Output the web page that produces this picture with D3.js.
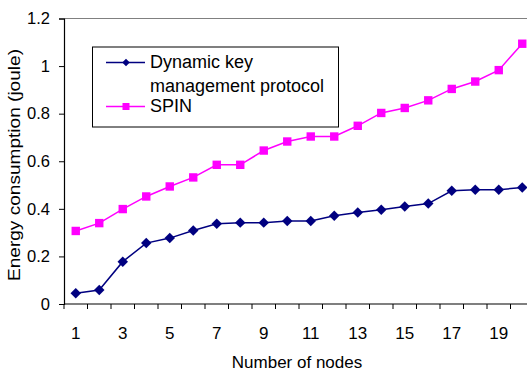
<!DOCTYPE html>
<html>
<head>
<meta charset="utf-8">
<script src="https://cdn.jsdelivr.net/npm/d3@7"></script>
<style>
  body { margin: 0; background: #fff; }
  svg { display: block; font-family: "Liberation Sans", Arial, sans-serif; }
</style>
</head>
<body>
<svg id="chart" width="527" height="372"></svg>
<script>
// values
let nodes = d3.range(1, 21);
let dynamicKey = [0.045, 0.059, 0.178, 0.256, 0.277, 0.309, 0.337, 0.342, 0.342, 0.349,
                  0.349, 0.371, 0.385, 0.396, 0.41, 0.422, 0.476, 0.48, 0.48, 0.49];
let spin = [0.307, 0.34, 0.399, 0.452, 0.494, 0.532, 0.585, 0.585, 0.645, 0.683,
            0.704, 0.704, 0.749, 0.803, 0.824, 0.856, 0.904, 0.935, 0.983, 1.094];
let yTicks = [0, 0.2, 0.4, 0.6, 0.8, 1, 1.2];
let xLabels = [1, 3, 5, 7, 9, 11, 13, 15, 17, 19];

let svg = d3.select("#chart");
let pLeft = 64, pRight = 534, pTop = 18.5, pBottom = 304;

let x = d3.scaleBand().domain(nodes).range([pLeft, pRight]);
let y = d3.scaleLinear().domain([0, 1.2]).range([pBottom, pTop]);

// top border line
svg.append("line")
    .attr("x1", pLeft).attr("x2", 527)
    .attr("y1", y(1.2)).attr("y2", y(1.2))
    .attr("stroke", "#808080").attr("stroke-width", 1.2);

// y axis
let yAxis = svg.append("g")
    .attr("transform", "translate(" + pLeft + ",0)")
    .call(d3.axisLeft(y).tickValues(yTicks).tickSize(5).tickPadding(9)
        .tickFormat(function(d) { return d; }));
yAxis.select(".domain").attr("stroke", "#000").attr("stroke-width", 1.2);
yAxis.selectAll(".tick line").attr("stroke", "#000");
yAxis.selectAll("text").attr("font-size", "16.5px").attr("font-family", "Liberation Sans, Arial").attr("fill", "#000");

// x axis, ticks at band edges
let xAxis = svg.append("g")
    .attr("transform", "translate(0," + pBottom + ")");
xAxis.append("line")
    .attr("x1", pLeft).attr("x2", pRight)
    .attr("stroke", "#000").attr("stroke-width", 1.2);
xAxis.selectAll(".edge")
    .data(nodes)
    .enter().append("line")
    .attr("class", "edge")
    .attr("x1", function(d) { return x(d); })
    .attr("x2", function(d) { return x(d); })
    .attr("y1", 0).attr("y2", 5)
    .attr("stroke", "#000");
xAxis.selectAll(".lab")
    .data(xLabels)
    .enter().append("text")
    .attr("class", "lab")
    .attr("x", function(d) { return x(d) + x.bandwidth() / 2; })
    .attr("y", 35)
    .attr("text-anchor", "middle")
    .attr("font-size", "17px")
    .text(function(d) { return d; });

// axis titles
svg.append("text")
    .attr("x", 297).attr("y", 368)
    .attr("text-anchor", "middle")
    .attr("font-size", "17px")
    .text("Number of nodes");

svg.append("text")
    .attr("transform", "translate(20,165) rotate(-90)")
    .attr("text-anchor", "middle")
    .attr("font-size", "16.5px")
    .attr("textLength", 232)
    .attr("lengthAdjust", "spacingAndGlyphs")
    .text("Energy consumption (joule)");

// series
let cx = function(d, i) { return x(nodes[i]) + x.bandwidth() / 2; };
let line = d3.line().x(cx).y(function(d) { return y(d); });

svg.append("path").datum(spin)
    .attr("d", line).attr("fill", "none")
    .attr("stroke", "#ff00ff").attr("stroke-width", 1.5);
svg.append("path").datum(dynamicKey)
    .attr("d", line).attr("fill", "none")
    .attr("stroke", "#000080").attr("stroke-width", 1.5);

svg.selectAll(".sq")
    .data(spin)
    .enter().append("rect")
    .attr("class", "sq")
    .attr("x", function(d, i) { return cx(d, i) - 4.2; })
    .attr("y", function(d) { return y(d) - 4.2; })
    .attr("width", 8.4).attr("height", 8.4)
    .attr("fill", "#ff00ff");

let diamond = d3.symbol().type(d3.symbolDiamond2).size(70);
svg.selectAll(".dm")
    .data(dynamicKey)
    .enter().append("path")
    .attr("class", "dm")
    .attr("d", diamond)
    .attr("transform", function(d, i) { return "translate(" + cx(d, i) + "," + y(d) + ")"; })
    .attr("fill", "#000080");

// legend
let legend = svg.append("g");
legend.append("rect")
    .attr("x", 92.5).attr("y", 47)
    .attr("width", 246).attr("height", 80)
    .attr("fill", "#fff").attr("stroke", "#000").attr("stroke-width", 1);

legend.append("line")
    .attr("x1", 106).attr("x2", 145).attr("y1", 62.5).attr("y2", 62.5)
    .attr("stroke", "#000080").attr("stroke-width", 1.5);
legend.append("path")
    .attr("d", d3.symbol().type(d3.symbolDiamond2).size(36))
    .attr("transform", "translate(126,62.5)")
    .attr("fill", "#000080");
legend.append("line")
    .attr("x1", 106).attr("x2", 145).attr("y1", 106.5).attr("y2", 106.5)
    .attr("stroke", "#ff00ff").attr("stroke-width", 1.5);
legend.append("rect")
    .attr("x", 122.5).attr("y", 103).attr("width", 7).attr("height", 7)
    .attr("fill", "#ff00ff");

legend.selectAll(".lt")
    .data([["Dynamic key", 68], ["management protocol", 92], ["SPIN", 112]])
    .enter().append("text")
    .attr("class", "lt")
    .attr("x", 150)
    .attr("y", function(d) { return d[1]; })
    .attr("font-size", "18px")
    .text(function(d) { return d[0]; });
</script>
</body>
</html>
